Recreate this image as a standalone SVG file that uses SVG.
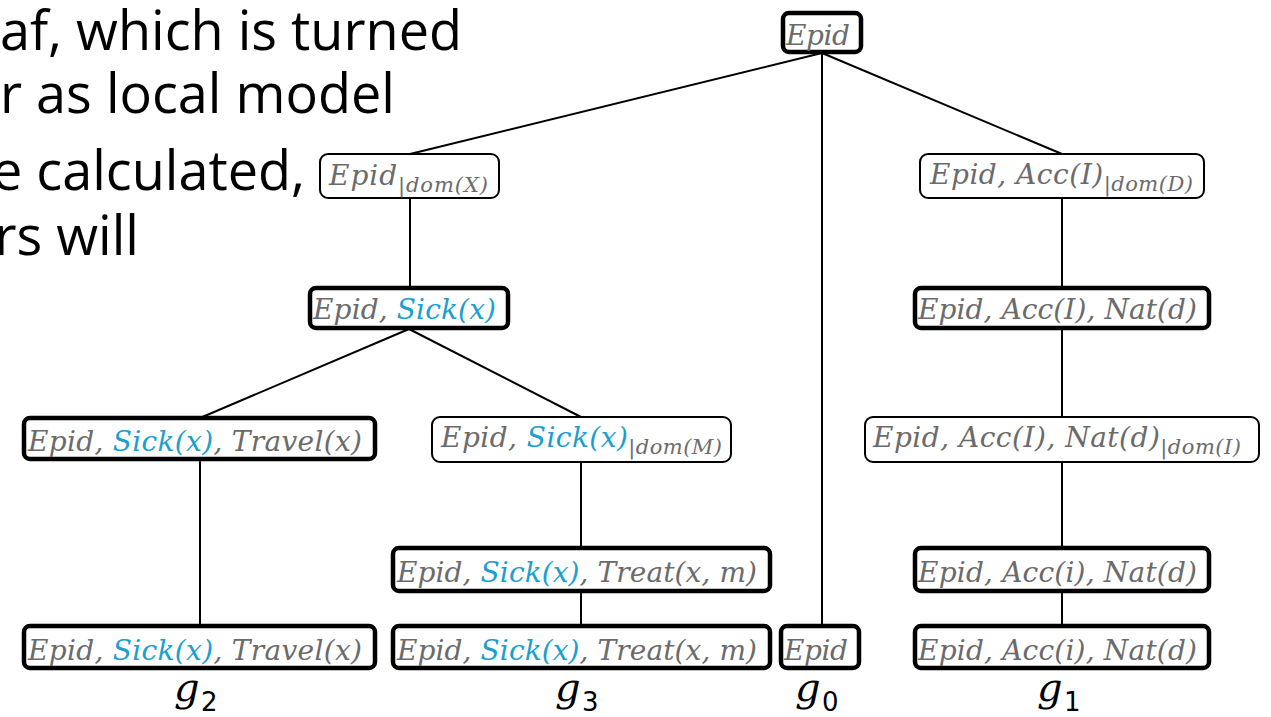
<svg xmlns="http://www.w3.org/2000/svg" width="1271" height="717" viewBox="0 0 1271 717">
<style>
.bg{font-family:"Open Sans","Noto Sans",sans-serif;font-size:54px;fill:#000}
.t{font-family:"DejaVu Serif",serif;font-style:italic;font-size:28px;fill:#6b6b6b}
.s{font-size:21px}
.b{fill:#1a9fd0}
.thick{fill:#fff;stroke:#000;stroke-width:4.5}
.thin{fill:#fff;stroke:#000;stroke-width:2}
.e{stroke:#000;stroke-width:2;fill:none}
.g{font-family:"DejaVu Serif",serif;font-style:italic;font-size:40px;fill:#000}
.gs{font-family:"DejaVu Sans",sans-serif;font-style:normal;font-size:26px}
</style>
<g id="bgtext" class="bg" text-anchor="end">
<text x="462" y="50">af, which is turned</text>
<text x="395" y="113">r as local model</text>
<text x="305" y="190">e calculated,</text>
<text x="139" y="255">rs will</text>
<text x="4" y="287">n</text>
</g>
<g id="connectors">
<line class="e" x1="822" y1="53" x2="410" y2="154"/>
<line class="e" x1="822" y1="53" x2="1062" y2="154"/>
<line class="e" x1="822" y1="53" x2="822" y2="626"/>
<line class="e" x1="410" y1="198" x2="410" y2="288"/>
<line class="e" x1="409" y1="329" x2="200" y2="418"/>
<line class="e" x1="409" y1="329" x2="581" y2="417"/>
<line class="e" x1="200" y1="460" x2="200" y2="626"/>
<line class="e" x1="581" y1="462" x2="581" y2="548"/>
<line class="e" x1="581" y1="592" x2="581" y2="626"/>
<line class="e" x1="1062" y1="198" x2="1062" y2="288"/>
<line class="e" x1="1062" y1="329" x2="1062" y2="417"/>
<line class="e" x1="1062" y1="462" x2="1062" y2="548"/>
<line class="e" x1="1062" y1="592" x2="1062" y2="626"/>
</g>
<g id="n-root"><rect class="thick" x="783" y="13" width="78" height="39" rx="6"/><text class="t" x="786" y="45" textLength="64">Epid</text></g>
<g id="n-domX"><rect class="thin" x="320" y="154" width="179" height="44" rx="8"/><text class="t" x="329" y="185" textLength="159">Epid<tspan class="s" dy="7">|dom(X)</tspan></text></g>
<g id="n-domD"><rect class="thin" x="920" y="154" width="284" height="44" rx="8"/><text class="t" x="930" y="184" textLength="263">Epid, Acc(I)<tspan class="s" dy="7">|dom(D)</tspan></text></g>
<g id="n-sick"><rect class="thick" x="310" y="288" width="198" height="40" rx="6"/><text class="t" x="313" y="319" textLength="183">Epid, <tspan class="b">Sick(x)</tspan></text></g>
<g id="n-accnat"><rect class="thick" x="915" y="288" width="294" height="40" rx="6"/><text class="t" x="918" y="319" textLength="279">Epid, Acc(I), Nat(d)</text></g>
<g id="n-travel"><rect class="thick" x="24" y="418" width="351" height="41" rx="6"/><text class="t" x="28" y="451" textLength="334">Epid, <tspan class="b">Sick(x)</tspan>, Travel(x)</text></g>
<g id="n-domM"><rect class="thin" x="432" y="417" width="299" height="45" rx="8"/><text class="t" x="441" y="447" textLength="281">Epid, <tspan class="b">Sick(x)</tspan><tspan class="s" dy="7">|dom(M)</tspan></text></g>
<g id="n-domI"><rect class="thin" x="865" y="417" width="394" height="45" rx="8"/><text class="t" x="873" y="447" textLength="368">Epid, Acc(I), Nat(d)<tspan class="s" dy="7">|dom(I)</tspan></text></g>
<g id="n-treat"><rect class="thick" x="393" y="548" width="377" height="43" rx="6"/><text class="t" x="397" y="582" textLength="360">Epid, <tspan class="b">Sick(x)</tspan>, Treat(x, m)</text></g>
<g id="n-acci"><rect class="thick" x="915" y="548" width="294" height="43" rx="6"/><text class="t" x="918" y="582" textLength="279">Epid, Acc(i), Nat(d)</text></g>
<g id="n-travel2"><rect class="thick" x="24" y="626" width="351" height="42" rx="6"/><text class="t" x="28" y="660" textLength="334">Epid, <tspan class="b">Sick(x)</tspan>, Travel(x)</text></g>
<g id="n-treat2"><rect class="thick" x="393" y="626" width="377" height="42" rx="6"/><text class="t" x="397" y="660" textLength="360">Epid, <tspan class="b">Sick(x)</tspan>, Treat(x, m)</text></g>
<g id="n-epid0"><rect class="thick" x="781" y="626" width="78" height="42" rx="6"/><text class="t" x="784" y="660" textLength="64">Epid</text></g>
<g id="n-acci2"><rect class="thick" x="915" y="626" width="294" height="42" rx="6"/><text class="t" x="918" y="660" textLength="279">Epid, Acc(i), Nat(d)</text></g>
<g id="labels">
<text class="g" x="174" y="701">g</text><text class="g gs" x="201" y="711">2</text>
<text class="g" x="555" y="701">g</text><text class="g gs" x="582" y="711">3</text>
<text class="g" x="795" y="701">g</text><text class="g gs" x="822" y="711">0</text>
<text class="g" x="1037" y="701">g</text><text class="g gs" x="1064" y="711">1</text>
</g>
</svg>
